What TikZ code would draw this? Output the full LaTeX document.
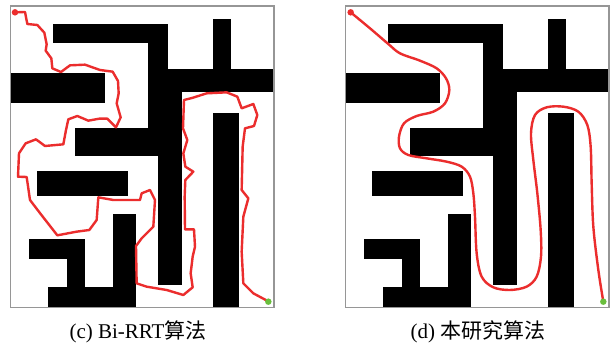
\documentclass[tikz,border=0pt]{standalone}
\usepackage{fontspec}
\setmainfont{Liberation Serif}
\newfontfamily\cjk{Noto Sans CJK SC}
\definecolor{pathred}{RGB}{235,45,45}
\definecolor{goalgreen}{RGB}{105,190,60}
\definecolor{framegray}{RGB}{150,150,150}
\newcommand\mymaze{%
  \fill[black] (158,72) rectangle (505,130);
  \fill[black] (445,128) rectangle (505,210);
  \fill[black] (445,207) rectangle (822,277);
  \fill[black] (640,57) rectangle (692,210);
  \fill[black] (445,275) rectangle (547,387);
  \fill[black] (225,385) rectangle (547,467);
  \fill[black] (475,465) rectangle (547,855);
  \fill[black] (32,220) rectangle (315,308);
  \fill[black] (640,340) rectangle (718,922);
  \fill[black] (110,513) rectangle (385,588);
  \fill[black] (338,642) rectangle (408,922);
  \fill[black] (87,716) rectangle (255,778);
  \fill[black] (200,776) rectangle (255,864);
  \fill[black] (145,862) rectangle (408,922);
  \draw[framegray, line width=1.1pt] (32,18) rectangle (822,922);
}
\tikzset{
  route/.style={pathred, line width=2.4pt, line join=round, line cap=round},
  startdot/.style={circle, fill=pathred, inner sep=0pt, minimum size=6.5pt},
  goaldot/.style={circle, fill=goalgreen, inner sep=0pt, minimum size=6.5pt},
  caption/.style={anchor=base, font=\fontsize{21}{25}\selectfont, inner sep=0pt}
}
\begin{document}
\begin{tikzpicture}[x=1pt, y=-1pt]
\useasboundingbox[fill=white] (0,0) rectangle (616,345);
% left panel
\begin{scope}[scale=1/3]
  \mymaze
  \draw[route] (45,37) -- (75,36) -- (82,72) -- (112,75) -- (133,98) -- (140,133) -- (137,152) -- (154,175) -- (157,205) -- (183,216) -- (210,196) -- (255,194) -- (300,210) -- (338,215) -- (354,243) -- (356,280) -- (350,310) -- (362,352) -- (348,382) -- (322,356) -- (298,356) -- (265,362) -- (232,348) -- (205,358) -- (198,390) -- (190,433) -- (135,438) -- (108,418) -- (77,430) -- (57,460) -- (54,530) -- (80,531) -- (90,600) -- (122,642) -- (172,706) -- (230,695) -- (268,690) -- (290,660) -- (295,592) -- (340,600) -- (420,600) -- (425,580) -- (450,570) -- (465,600) -- (460,680) -- (425,715) -- (408,738) -- (410,850) -- (440,860) -- (500,870) -- (550,885) -- (578,862) -- (572,820) -- (578,770) -- (585,740) -- (582,688) -- (555,688) -- (554,590) -- (556,540) -- (580,515) -- (556,500) -- (550,460) -- (562,420) -- (549,385) -- (552,300) -- (576,294) -- (620,280) -- (680,277) -- (712,290) -- (725,325) -- (760,312) -- (772,345) -- (762,378) -- (735,385) -- (728,440) -- (725,570) -- (745,595) -- (730,650) -- (725,755) -- (730,850) -- (760,880) -- (803,903);
  \node[startdot] (s1) at (45,37) {};
  \node[goaldot] (g1) at (805,905) {};
\end{scope}
% right panel
\begin{scope}[shift={(335,0)}, scale=1/3]
  \mymaze
\end{scope}
\begin{scope}[shift={(330,0)}, scale=1/3]
  \draw[route] plot[smooth, tension=0.55] coordinates {(62,37) (120,85) (175,132) (210,160) (270,182) (320,205) (348,235) (358,270) (345,310) (310,335) (260,348) (222,370) (207,410) (210,445) (235,465) (290,475) (350,485) (395,500) (420,530) (430,580) (435,650) (440,760) (455,830) (490,862) (540,870) (590,860) (620,830) (633,770) (632,690) (622,580) (610,480) (603,400) (615,345) (650,322) (700,320) (745,335) (772,375) (782,440) (785,550) (790,680) (805,810) (820,905)};
  \node[startdot] (s2) at (62,37) {};
  \node[goaldot] (g2) at (820,905) {};
\end{scope}
\node[caption] (capc) at (138,338) {(c) Bi-RRT{\cjk 算法}};
\node[caption] (capd) at (478,338) {(d) {\cjk 本研究算法}};
\end{tikzpicture}
\end{document}
